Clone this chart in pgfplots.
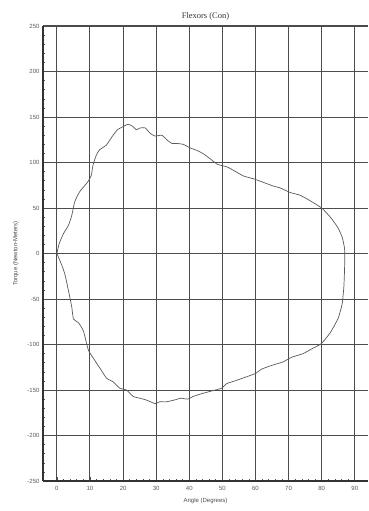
\documentclass[border=0pt]{standalone}
\usepackage{pgfplots}
\pgfplotsset{compat=1.18}
\usepackage{fontspec}
\setmainfont{Liberation Sans}
\newfontfamily\seriffont{Liberation Serif}
\begin{document}
\begin{tikzpicture}
\begin{axis}[
  scale only axis,
  width=325pt, height=455pt,
  xmin=-4.2, xmax=94, ymin=-250, ymax=250,
  xtick={0,10,...,90}, ytick={-250,-200,...,250},
  minor x tick num=4, minor y tick num=4,
  grid=major,
  major grid style={draw=black!70, line width=1pt},
  axis line style={draw=black!80, line width=1.2pt},
  axis x line*=bottom, axis y line*=left,
  tick align=inside,
  major tick length=4pt, minor tick length=2.5pt,
  every tick/.style={black!70, line width=0.6pt},
  /pgf/number format/assume math mode=true,
  tick label style={font=\fontsize{6}{7}\selectfont, text=black!65},
  xticklabel style={yshift=-2pt},
  xlabel={Angle (Degrees)}, ylabel={Torque (Newton-Meters)},
  label style={font=\fontsize{6}{7}\selectfont, text=black!70},
  xlabel style={yshift=-1pt},
  ylabel style={yshift=2pt},
  title={\seriffont Flexors (Con)},
  title style={font=\fontsize{8.5}{9}\selectfont, text=black!80, yshift=-4pt},
  clip=false,
]
\addplot[black!65, line width=0.7pt, smooth, tension=0.3] coordinates {
(0,0) (0.7,11) (2,22) (3.5,31) (4.5,42) (5.4,57) (6.9,68) (9.4,79) (10.4,86)
(10.9,97) (11.9,108) (12.9,114) (14.9,119) (16.8,129) (18.3,136) (20.3,140)
(21.5,142) (22.8,140) (24,136) (25.2,138) (26.7,138) (28.2,132) (29.7,129)
(31.7,130) (33.2,125) (34.7,121) (36.1,121) (38.1,120) (40.3,116) (42.5,113)
(44.5,109) (46,105) (48.5,98) (51.5,95) (54.5,89) (56.5,85) (59.5,82)
(62.5,78) (65.5,74) (67.5,72) (70.5,67) (73.5,64) (76.5,58) (80,50)
(82.6,40) (84.8,29) (86.2,18) (86.9,6) (87,-2) (86.9,-19) (86.7,-37)
(86.2,-55) (85,-71) (82.6,-87) (79.9,-99) (77.4,-104) (74.4,-110)
(70.9,-114) (68.4,-119) (64.9,-123) (61.9,-127) (59.9,-132) (56.9,-136)
(53.8,-140) (51.3,-143) (49.8,-148) (46.8,-151) (43.8,-154) (41.2,-157)
(39.5,-160) (37.5,-159) (35.5,-161) (33,-163) (31,-163) (29.7,-165)
(27,-161) (25,-159) (23,-157) (21,-150) (19,-148) (17,-141) (15,-137)
(13,-126) (11,-115) (9.5,-106) (8,-85) (6.5,-76) (5,-72) (4.5,-59)
(3.5,-41) (2.5,-24) (1.5,-13) (0,0)
};
\end{axis}
\pgfresetboundingbox
\path ([shift={(-43pt,-30pt)}]current axis.south west) rectangle ([shift={(0pt,26pt)}]current axis.north east);
\end{tikzpicture}
\end{document}
